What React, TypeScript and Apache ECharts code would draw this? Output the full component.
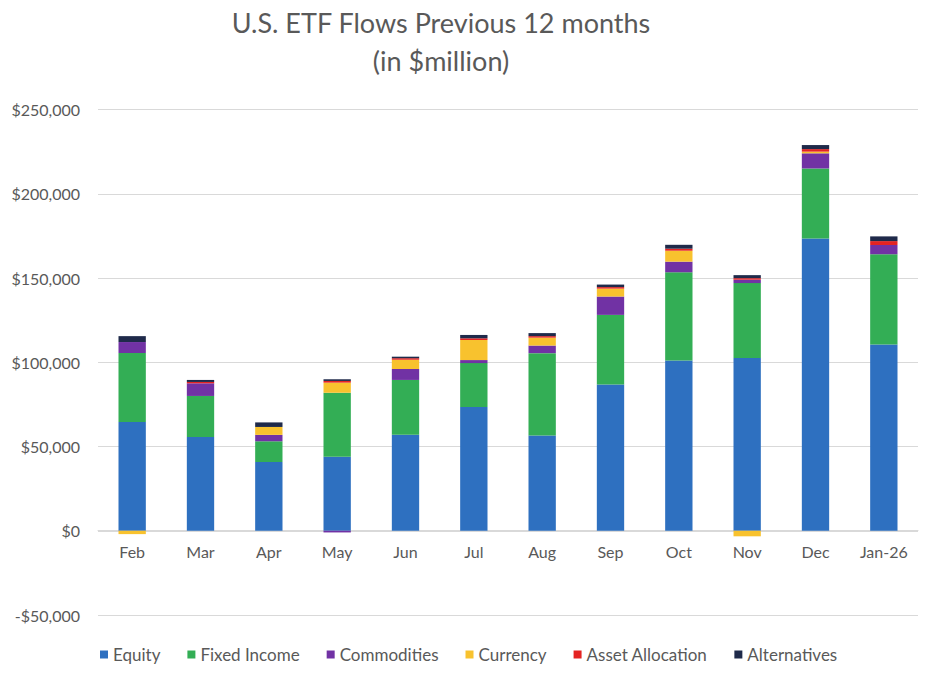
import React, { useEffect, useRef } from "react";
import * as echarts from "echarts";

const categories = ["Feb", "Mar", "Apr", "May", "Jun", "Jul", "Aug", "Sep", "Oct", "Nov", "Dec", "Jan-26"];
const equity = [64600, 55700, 40800, 43900, 56900, 73500, 56600, 86800, 101000, 102500, 173500, 110500];
const fixedIncome = [40900, 24300, 12300, 38000, 32600, 26000, 48800, 41300, 52400, 44500, 41500, 53600];
const commodities = [6500, 7500, 3800, -1000, 6500, 1800, 4500, 10900, 6300, 2000, 9000, 5500];
const currency = [-2000, 0, 4700, 6000, 5500, 11900, 4700, 4700, 6500, -3300, 1000, 0];
const assetAllocation = [0, 800, 0, 1000, 900, 1000, 900, 900, 1200, 900, 1500, 2300];
const alternatives = [3500, 1200, 2700, 1000, 900, 2000, 1800, 1500, 2300, 1800, 2400, 2800];

const seriesDefs = [
  { name: "Equity", data: equity, color: "#2E70C0" },
  { name: "Fixed Income", data: fixedIncome, color: "#33AE55" },
  { name: "Commodities", data: commodities, color: "#7132A4" },
  { name: "Currency", data: currency, color: "#F8C22E" },
  { name: "Asset Allocation", data: assetAllocation, color: "#E42322" },
  { name: "Alternatives", data: alternatives, color: "#1F2A4A" },
];

const FONT = "Lato, 'Open Sans', sans-serif";

export default function App() {
  const ref = useRef<HTMLDivElement>(null);
  useEffect(() => {
    document.body.style.margin = "0";
    const chart = echarts.init(ref.current!, null, { renderer: "svg" });
    chart.setOption({
      animation: false,
      backgroundColor: "#ffffff",
      title: {
        text: "U.S. ETF Flows Previous 12 months\n(in $million)",
        left: 436,
        top: -2,
        textAlign: "center",
        textStyle: {
          fontFamily: FONT,
          fontSize: 27,
          fontWeight: "normal",
          color: "#595959",
          lineHeight: 38,
        },
      },
      legend: {
        bottom: 15,
        left: 95,
        icon: "rect",
        itemWidth: 8,
        itemHeight: 8,
        itemGap: 27,
        textStyle: { fontFamily: FONT, fontSize: 17, color: "#595959" },
        data: seriesDefs.map((s) => s.name),
      },
      grid: { left: 98, right: 17, top: 109.5, bottom: 68, containLabel: false },
      xAxis: {
        type: "category",
        data: categories,
        offset: -84.3,
        axisLine: { show: true, onZero: false, lineStyle: { color: "#d9d9d9" } },
        axisTick: { show: false },
        axisLabel: { fontFamily: FONT, fontSize: 16, color: "#595959", margin: 13 },
      },
      yAxis: {
        type: "value",
        min: -50000,
        max: 250000,
        interval: 50000,
        axisLine: { show: false },
        axisTick: { show: false },
        splitLine: { lineStyle: { color: "#d9d9d9", width: 1 } },
        axisLabel: {
          fontFamily: FONT,
          fontSize: 16,
          color: "#595959",
          margin: 18,
          formatter: (v: number) => {
            const s = "$" + Math.abs(v).toLocaleString("en-US");
            return v < 0 ? "-" + s : s;
          },
        },
      },
      series: seriesDefs.map((s) => ({
        name: s.name,
        type: "bar",
        stack: "total",
        barWidth: "40%",
        data: s.data,
        itemStyle: { color: s.color },
      })),
    });
    return () => chart.dispose();
  }, []);
  return <div ref={ref} style={{ width: 935, height: 683 }} />;
}
